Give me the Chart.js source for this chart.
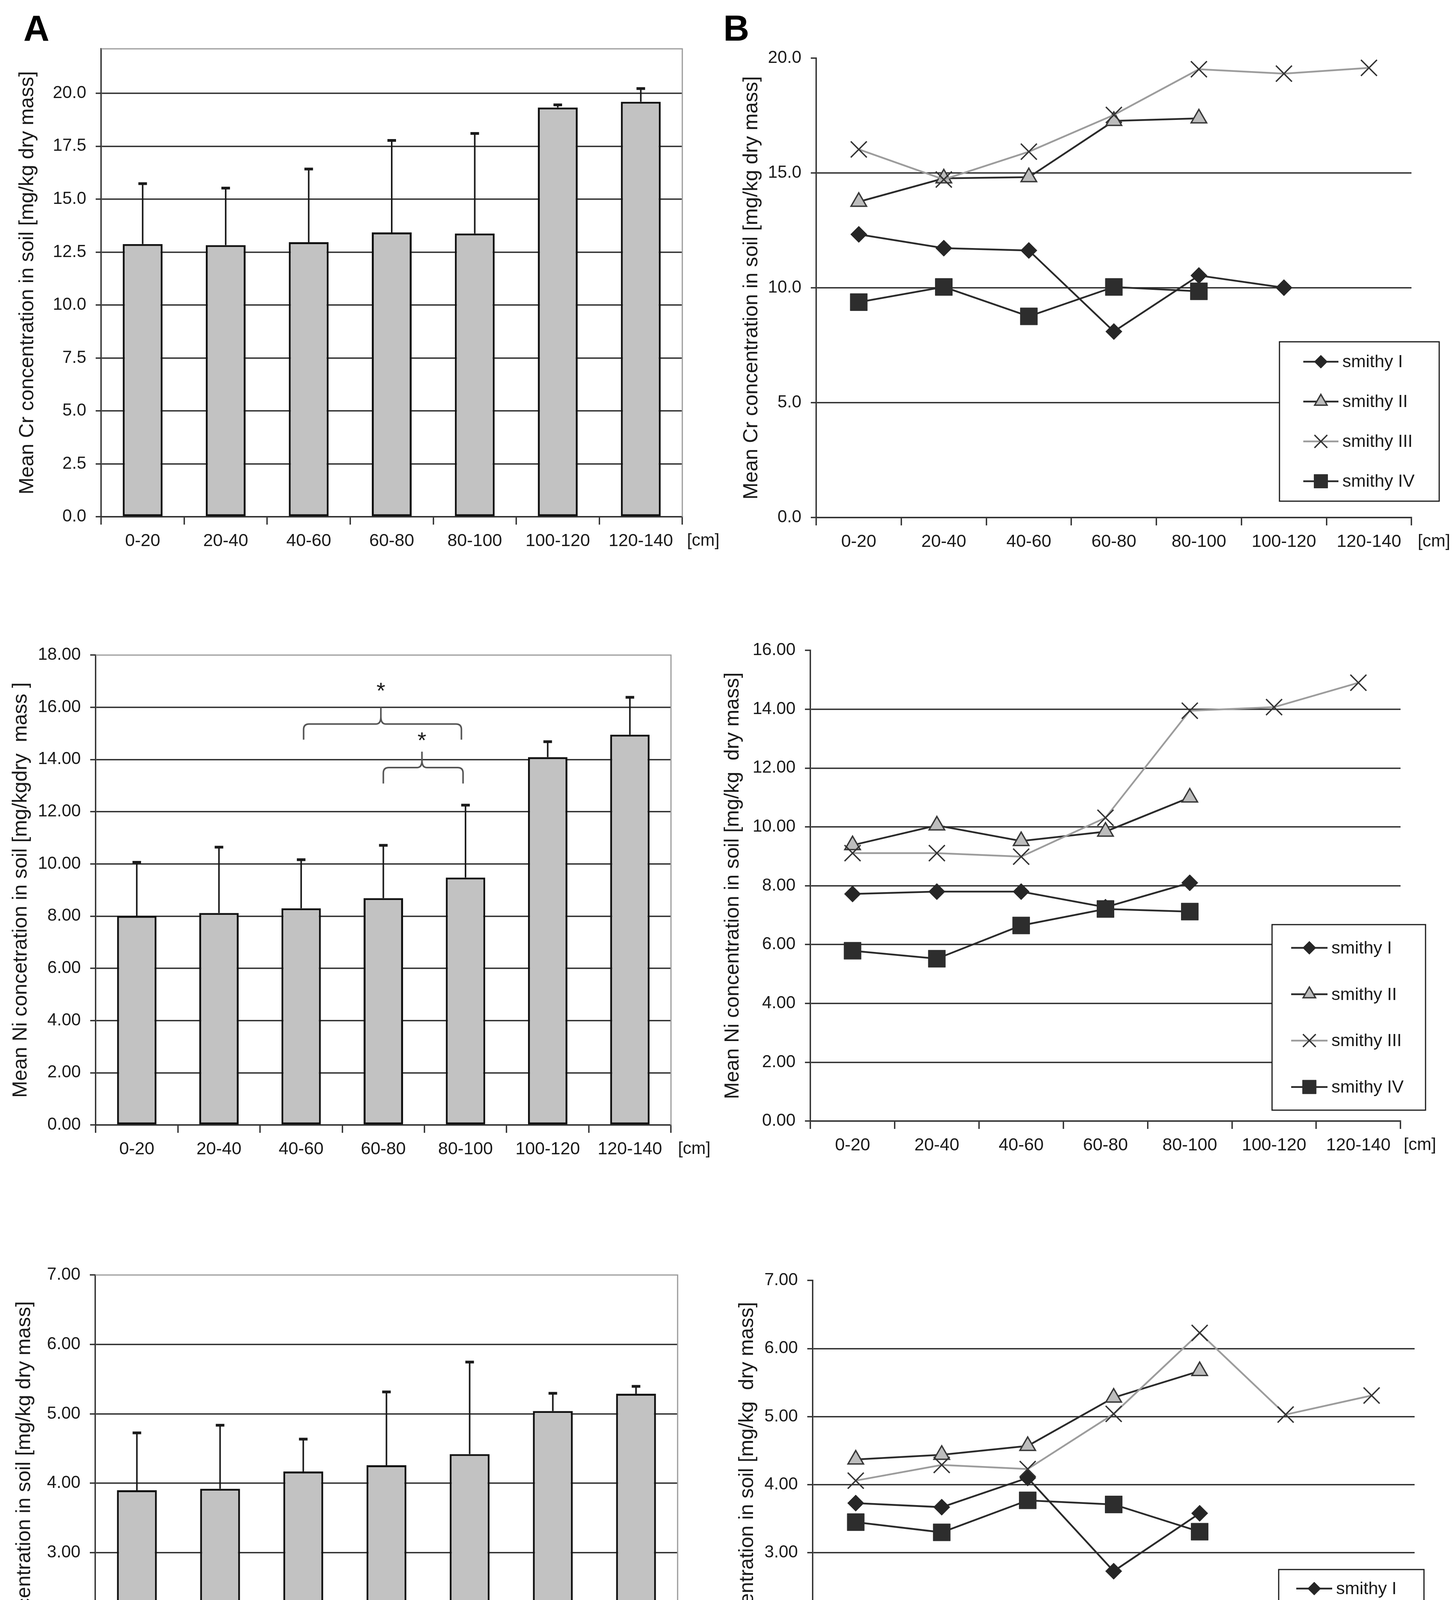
<!DOCTYPE html>
<html><head><meta charset="utf-8">
<script src="https://cdn.jsdelivr.net/npm/chart.js@4.4.1/dist/chart.umd.min.js"></script>
<style>
html,body{margin:0;padding:0;background:#fff;}
body{width:3728px;height:4616px;position:relative;overflow:hidden;}
canvas{position:absolute;}
.lab{position:absolute;font:bold 92px 'Liberation Sans',Arial,sans-serif;line-height:1;color:#000;}
</style></head>
<body>
<div class="lab" style="left:60px;top:26px">A</div>
<div class="lab" style="left:1852px;top:26px">B</div>
<canvas id="a1" width="1860" height="1440" style="left:0;top:0"></canvas>
<canvas id="b1" width="1948" height="1440" style="left:1780px;top:0"></canvas>
<canvas id="a2" width="1860" height="1580" style="left:0;top:1440px"></canvas>
<canvas id="b2" width="1948" height="1580" style="left:1780px;top:1440px"></canvas>
<canvas id="a3" width="1860" height="1596" style="left:0;top:3020px"></canvas>
<canvas id="b3" width="1948" height="1596" style="left:1780px;top:3020px"></canvas>
<script>
// ---------------- DATA ----------------
const depths = ['0-20','20-40','40-60','60-80','80-100','100-120','120-140'];
const seriesNames = ['smithy I','smithy II','smithy III','smithy IV'];

// Panel A: means and upper ends of the error bars
const crMean   = [12.88, 12.83, 12.97, 13.43, 13.38, 19.33, 19.60];
const crErrTop = [15.78, 15.57, 16.47, 17.82, 18.15, 19.50, 20.27];
const niMean   = [8.01, 8.12, 8.30, 8.69, 9.48, 14.09, 14.95];
const niErrTop = [10.10, 10.68, 10.20, 10.75, 12.29, 14.72, 16.42];
const coMean   = [3.90, 3.92, 4.17, 4.26, 4.42, 5.04, 5.29];
const coErrTop = [4.74, 4.85, 4.65, 5.33, 5.76, 5.31, 5.41];

// Ni significance brackets: [from index, to index, middle index]
const niSignif = [[2.03, 3.95, 2.97], [3.0, 3.97, 3.47]];
const niSignifLevels = [  // [horizontal, ends, peak, star] in mg/kg
  [15.36, 14.76, 16.0, 16.76],
  [13.69, 13.08, 14.3, 14.86]
];

// Panel B: per smithy
const crS1 = [12.33, 11.73, 11.63, 8.10, 10.54, 10.01, null];
const crS2 = [13.75, 14.77, 14.82, 17.27, 17.38, null, null];
const crS3 = [16.03, 14.72, 15.93, 17.53, 19.52, 19.33, 19.58];
const crS4 = [9.38, 10.04, 8.76, 10.04, 9.85, null, null];

const niS1 = [7.72, 7.80, 7.80, 7.27, 8.10, null, null];
const niS2 = [9.38, 10.05, 9.52, 9.84, 11.00, null, null];
const niS3 = [9.11, 9.11, 8.99, 10.31, 13.95, 14.07, 14.90];
const niS4 = [5.79, 5.52, 6.65, 7.21, 7.12, null, null];

const coS1 = [3.73, 3.67, 4.10, 2.73, 3.58, null, null];
const coS2 = [4.37, 4.44, 4.57, 5.28, 5.67, null, null];
const coS3 = [4.06, 4.29, 4.23, 5.04, 6.23, 5.03, 5.31];
const coS4 = [3.45, 3.30, 3.77, 3.71, 3.31, null, null];

// ---------------- STYLE ----------------
const NARROW = "'Liberation Sans Narrow','Arial Narrow','Liberation Sans',sans-serif";
const WIDE = "'Liberation Sans',Arial,sans-serif";
const INK = '#1a1a1a';
const GRID = '#303030';

// ---------------- PLUGINS ----------------
const frame = {
  id: 'frame',
  beforeDatasetsDraw(chart, args, o) {
    if (!o || !o.show) return;
    const {ctx, chartArea: a} = chart;
    ctx.save();
    ctx.strokeStyle = o.color; ctx.lineWidth = o.width;
    ctx.beginPath();
    ctx.moveTo(a.left, a.top); ctx.lineTo(a.right, a.top); ctx.lineTo(a.right, a.bottom);
    ctx.stroke();
    ctx.restore();
  }
};

const errBars = {
  id: 'errBars',
  afterDatasetsDraw(chart, args, o) {
    if (!o || !o.tops) return;
    const meta = chart.getDatasetMeta(0);
    const ys = chart.scales.y;
    const ctx = chart.ctx;
    ctx.save();
    ctx.strokeStyle = INK;
    meta.data.forEach((el, i) => {
      const yt = ys.getPixelForValue(o.tops[i]);
      ctx.lineWidth = o.width;
      ctx.beginPath();
      ctx.moveTo(el.x, el.y); ctx.lineTo(el.x, yt); ctx.stroke();
      ctx.lineWidth = o.capWidth;
      ctx.beginPath();
      ctx.moveTo(el.x - o.cap, yt + o.capWidth / 2 - 1); ctx.lineTo(el.x + o.cap, yt + o.capWidth / 2 - 1); ctx.stroke();
    });
    ctx.restore();
  }
};

const braces = {
  id: 'braces',
  afterDatasetsDraw(chart, args, o) {
    if (!o || !o.spans) return;
    const xs = chart.scales.x, ys = chart.scales.y, ctx = chart.ctx;
    ctx.save();
    ctx.strokeStyle = '#555'; ctx.lineWidth = 4;
    o.spans.forEach((s, k) => {
      const lv = o.levels[k];
      const xl = xs.getPixelForValue(s[0]), xr = xs.getPixelForValue(s[1]), xm = xs.getPixelForValue(s[2]);
      const yh = ys.getPixelForValue(lv[0]), ye = ys.getPixelForValue(lv[1]);
      const yt = ys.getPixelForValue(lv[2]), yst = ys.getPixelForValue(lv[3]);
      const r = 14, rm = 12;
      ctx.beginPath();
      ctx.moveTo(xl, ye); ctx.lineTo(xl, yh + r);
      ctx.quadraticCurveTo(xl, yh, xl + r, yh);
      ctx.lineTo(xm - rm, yh);
      ctx.quadraticCurveTo(xm, yh, xm, yh - rm * 1.6);
      ctx.lineTo(xm, yt);
      ctx.moveTo(xm, yh - rm * 1.6);
      ctx.quadraticCurveTo(xm, yh, xm + rm, yh);
      ctx.lineTo(xr - r, yh);
      ctx.quadraticCurveTo(xr, yh, xr, yh + r);
      ctx.lineTo(xr, ye);
      ctx.stroke();
      ctx.fillStyle = INK;
      ctx.font = '58px ' + WIDE;
      ctx.textAlign = 'center'; ctx.textBaseline = 'middle';
      ctx.fillText('*', xm, yst + 12);
    });
    ctx.restore();
  }
};

const unitLabel = {
  id: 'unitLabel',
  afterDraw(chart, args, o) {
    if (!o || !o.text) return;
    const {ctx, chartArea: a} = chart;
    ctx.save();
    ctx.font = o.size + 'px ' + NARROW;
    ctx.fillStyle = INK; ctx.textAlign = 'left'; ctx.textBaseline = 'middle';
    ctx.fillText(o.text, a.right + o.dx, a.bottom + o.dy);
    ctx.restore();
  }
};

function marker(ctx, style, r, x, y) {
  ctx.beginPath();
  if (style === 'rectRot') {
    ctx.moveTo(x, y - r); ctx.lineTo(x + r, y); ctx.lineTo(x, y + r); ctx.lineTo(x - r, y); ctx.closePath();
    ctx.fill(); ctx.stroke();
  } else if (style === 'rect') {
    const s = r * Math.SQRT1_2;
    ctx.rect(x - s, y - s, 2 * s, 2 * s); ctx.fill(); ctx.stroke();
  } else if (style === 'triangle') {
    ctx.moveTo(x, y - r);
    ctx.lineTo(x + r * Math.sin(2 * Math.PI / 3), y - r * Math.cos(2 * Math.PI / 3));
    ctx.lineTo(x + r * Math.sin(4 * Math.PI / 3), y - r * Math.cos(4 * Math.PI / 3));
    ctx.closePath(); ctx.fill(); ctx.stroke();
  } else if (style === 'crossRot') {
    const d = r * Math.SQRT1_2;
    ctx.moveTo(x - d, y - d); ctx.lineTo(x + d, y + d);
    ctx.moveTo(x + d, y - d); ctx.lineTo(x - d, y + d);
    ctx.stroke();
  }
}

const boxLegend = {
  id: 'boxLegend',
  afterDraw(chart, args, o) {
    if (!o || !o.box) return;
    const ctx = chart.ctx;
    const [bx, by, bw, bh] = o.box;
    ctx.save();
    ctx.fillStyle = '#fff'; ctx.fillRect(bx, by, bw, bh);
    ctx.strokeStyle = INK; ctx.lineWidth = 3; ctx.strokeRect(bx, by, bw, bh);
    const sets = chart.data.datasets;
    const n = sets.length;
    sets.forEach((ds, i) => {
      const cy = by + (i + 0.5) * bh / n;
      const x0 = bx + o.lineX0, x1 = bx + o.lineX1, cx = (x0 + x1) / 2;
      ctx.strokeStyle = ds.borderColor; ctx.lineWidth = ds.borderWidth;
      ctx.beginPath(); ctx.moveTo(x0, cy); ctx.lineTo(x1, cy); ctx.stroke();
      ctx.fillStyle = ds.pointBackgroundColor; ctx.strokeStyle = ds.pointBorderColor;
      ctx.lineWidth = ds.pointBorderWidth;
      marker(ctx, ds.pointStyle, ds.pointRadius * o.markerScale, cx, cy);
      ctx.fillStyle = INK;
      ctx.font = o.size + 'px ' + NARROW;
      ctx.textAlign = 'left'; ctx.textBaseline = 'middle';
      ctx.fillText(ds.label, bx + o.textX, cy + 2);
    });
    ctx.restore();
  }
};

// ---------------- BUILDERS ----------------
function yAxis(cfg) {
  return {
    min: 0, max: cfg.max,
    ticks: {
      stepSize: cfg.step, includeBounds: false,
      callback: v => Number(v).toFixed(cfg.dec),
      font: {family: NARROW, size: 44}, color: INK, padding: 24
    },
    grid: {
      color: c => (c.tick && Math.abs(c.tick.value - cfg.max) < 1e-9) ? 'rgba(0,0,0,0)' : GRID,
      lineWidth: 3.5, tickLength: 14, tickColor: GRID, tickWidth: 3.5
    },
    border: {color: GRID, width: 3.5},
    title: {
      display: true, text: cfg.title, color: INK,
      font: {family: WIDE, size: 52}, padding: {top: cfg.titlePad, bottom: 0}
    },
    afterFit(s) { s.width = cfg.axisW; }
  };
}
function xAxis(cfg) {
  return {
    offset: true,
    ticks: {font: {family: NARROW, size: 45}, color: INK, padding: 16, maxRotation: 0, autoSkip: false},
    grid: {offset: true, drawOnChartArea: false, drawTicks: true, tickLength: 20, tickColor: GRID, tickWidth: 3.5, lineWidth: 3.5, color: GRID},
    border: {color: GRID, width: 3.5},
    afterFit(s) { s.height = 100; }
  };
}

function makeBar(id, mean, errTop, cfg) {
  new Chart(document.getElementById(id), {
    type: 'bar',
    data: {labels: depths, datasets: [{
      data: mean, backgroundColor: '#c2c2c2', borderColor: '#111', borderWidth: 5,
      borderSkipped: false, barPercentage: 0.48, categoryPercentage: 1.0
    }]},
    options: {
      responsive: false, animation: false, devicePixelRatio: 1,
      layout: {padding: cfg.pad},
      scales: {x: xAxis(cfg), y: yAxis(cfg)},
      plugins: {
        legend: {display: false}, tooltip: {enabled: false},
        frame: {show: true, color: '#9a9a9a', width: 3},
        errBars: {tops: errTop, width: 4, capWidth: 7, cap: 11},
        braces: cfg.braces || {},
        unitLabel: {text: '[cm]', size: 44, dx: cfg.unitDx, dy: 62}
      }
    },
    plugins: [frame, errBars, braces, unitLabel]
  });
}

function lineSet(label, values, k) {
  const styles = [
    {pointStyle: 'rectRot', pointRadius: 21, pointBackgroundColor: '#262626', pointBorderColor: '#262626', pointBorderWidth: 1, borderColor: '#2a2a2a'},
    {pointStyle: 'triangle', pointRadius: 23, pointBackgroundColor: '#bdbdbd', pointBorderColor: '#383838', pointBorderWidth: 3.5, borderColor: '#2a2a2a'},
    {pointStyle: 'crossRot', pointRadius: 29, pointBackgroundColor: 'rgba(0,0,0,0)', pointBorderColor: '#333', pointBorderWidth: 3.5, borderColor: '#9c9c9c'},
    {pointStyle: 'rect', pointRadius: 31, pointBackgroundColor: '#2d2d2d', pointBorderColor: '#2d2d2d', pointBorderWidth: 1, borderColor: '#2a2a2a'}
  ];
  return Object.assign({label, data: values, borderWidth: 4.5, tension: 0, fill: false, spanGaps: false, order: 4 - k,
    pointHoverRadius: 0}, styles[k]);
}

function makeLine(id, series, cfg) {
  new Chart(document.getElementById(id), {
    type: 'line',
    data: {labels: depths, datasets: series.map((v, k) => lineSet(seriesNames[k], v, k))},
    options: {
      responsive: false, animation: false, devicePixelRatio: 1,
      layout: {padding: cfg.pad},
      scales: {x: xAxis(cfg), y: yAxis(cfg)},
      plugins: {
        legend: {display: false}, tooltip: {enabled: false},
        boxLegend: Object.assign({box: cfg.legendBox, size: 45, markerScale: 0.8}, cfg.legendCols),
        unitLabel: {text: '[cm]', size: 44, dx: cfg.unitDx, dy: 62}
      }
    },
    plugins: [boxLegend, unitLabel]
  });
}

// ---------------- CHARTS ----------------
makeBar('a1', crMean, crErrTop, {
  max: 22.1, step: 2.5, dec: 1, axisW: 259, titlePad: 39,
  title: 'Mean Cr concentration in soil [mg/kg dry mass]',
  pad: {left: 0, top: 125, right: 113, bottom: 17}, unitDx: 12
});
makeBar('a2', niMean, niErrTop, {
  max: 18, step: 2, dec: 2, axisW: 245, titlePad: 22,
  title: 'Mean Ni concetration in soil [mg/kgdry  mass ]',
  pad: {left: 0, top: 237, right: 142, bottom: 40}, unitDx: 18,
  braces: {spans: niSignif, levels: niSignifLevels}
});
makeBar('a3', coMean, coErrTop, {
  max: 7, step: 1, dec: 2, axisW: 244, titlePad: 31,
  title: 'Mean Co  concentration in soil [mg/kg dry mass]',
  pad: {left: 0, top: 244, right: 125, bottom: 8}, unitDx: 15
});

makeLine('b1', [crS1, crS2, crS3, crS4], {
  max: 20, step: 5, dec: 1, axisW: 310, titlePad: 113,
  title: 'Mean Cr concentration in soil [mg/kg dry mass]',
  pad: {left: 0, top: 149, right: 114, bottom: 15}, unitDx: 16,
  legendBox: [1496, 875, 409, 408], legendCols: {lineX0: 61, lineX1: 151, textX: 161}
});
makeLine('b2', [niS1, niS2, niS3, niS4], {
  max: 16, step: 2, dec: 2, axisW: 295, titlePad: 65,
  title: 'Mean Ni concentration in soil [mg/kg  dry mass]',
  pad: {left: 0, top: 225, right: 142, bottom: 50}, unitDx: 8,
  legendBox: [1477, 927, 393, 475], legendCols: {lineX0: 49, lineX1: 142, textX: 152}
});
makeLine('b3', [coS1, coS2, coS3, coS4], {
  max: 7, step: 1, dec: 2, axisW: 301, titlePad: 102,
  title: 'Mean Co concentration in soil [mg/kg  dry mass]',
  pad: {left: 0, top: 258, right: 106, bottom: 18}, unitDx: 8,
  legendBox: [1494, 998, 372, 390], legendCols: {lineX0: 45, lineX1: 137, textX: 147}
});
</script>
</body></html>
